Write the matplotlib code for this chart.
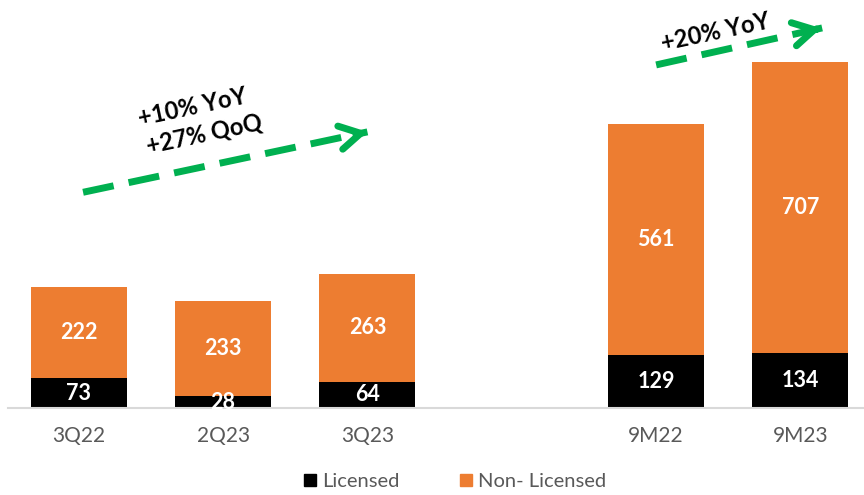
import matplotlib.pyplot as plt
import matplotlib
from matplotlib.patches import Patch

matplotlib.rcParams['font.family'] = ['Lato', 'DejaVu Sans']

# 数据
categories = ['3Q22', '2Q23', '3Q23', '9M22', '9M23']
positions = [0, 1, 2, 4, 5]
licensed = [73, 28, 64, 129, 134]
non_licensed = [222, 233, 263, 561, 707]

orange = '#ED7D31'
green = '#00B050'

fig = plt.figure(figsize=(8.64, 4.95), dpi=100)
ax = fig.add_axes([8 / 864, 87 / 495, 856 / 864, 408 / 495])

width = 0.665
ax.bar(positions, licensed, width, color='black', label='Licensed')
ax.bar(positions, non_licensed, width, bottom=licensed, color=orange, label='Non- Licensed')

for x, lic, non in zip(positions, licensed, non_licensed):
    ax.text(x, lic / 2, str(lic), ha='center', va='center', color='white',
            fontsize=15.5, fontweight='bold')
    ax.text(x, lic + non / 2, str(non), ha='center', va='center', color='white',
            fontsize=15.5, fontweight='bold')

ax.set_xlim(-0.49, 5.44)
ax.set_ylim(0, 993)
ax.set_xticks(positions)
ax.set_xticklabels(categories, fontsize=15, color='#595959')
ax.tick_params(axis='x', length=0, pad=13)
ax.set_yticks([])
for side in ['top', 'right', 'left']:
    ax.spines[side].set_visible(False)
ax.spines['bottom'].set_color('#D9D9D9')
ax.spines['bottom'].set_linewidth(1.5)


def growth_arrow(x0, y0, x1, y1):
    # 虚线箭头
    ax.plot([x0, x1], [y0, y1], color=green, linewidth=5,
            dashes=(4.5, 2.2), solid_capstyle='butt', dash_capstyle='butt')
    dx, dy = x1 - x0, y1 - y0
    ax.annotate('', xy=(x1 + dx * 0.01, y1 + dy * 0.01), xytext=(x1 - dx * 0.05, y1 - dy * 0.05),
                arrowprops=dict(arrowstyle='->,head_length=1.5,head_width=0.85',
                                color=green, linewidth=5, capstyle='round',
                                joinstyle='round'))


growth_arrow(0.03, 525, 2.0, 672)
growth_arrow(4.0, 835, 5.15, 925)

ax.text(0.79, 733, '+10% YoY', ha='center', va='center', rotation=12,
        fontsize=17, fontweight='bold', color='black')
ax.text(0.87, 668, '+27% QoQ', ha='center', va='center', rotation=12,
        fontsize=17, fontweight='bold', color='black')
ax.text(4.41, 915, '+20% YoY', ha='center', va='center', rotation=12,
        fontsize=17, fontweight='bold', color='black')

handles = [Patch(color='black', label='Licensed'),
           Patch(color=orange, label='Non- Licensed')]
fig.legend(handles=handles, loc='center', bbox_to_anchor=(0.527, 0.027), ncol=2,
           frameon=False, fontsize=14.5, labelcolor='#595959',
           handlelength=0.6, handleheight=0.6, handletextpad=0.3, columnspacing=3.0,
           borderpad=0.1)

fig.savefig('out.png', dpi=100)
